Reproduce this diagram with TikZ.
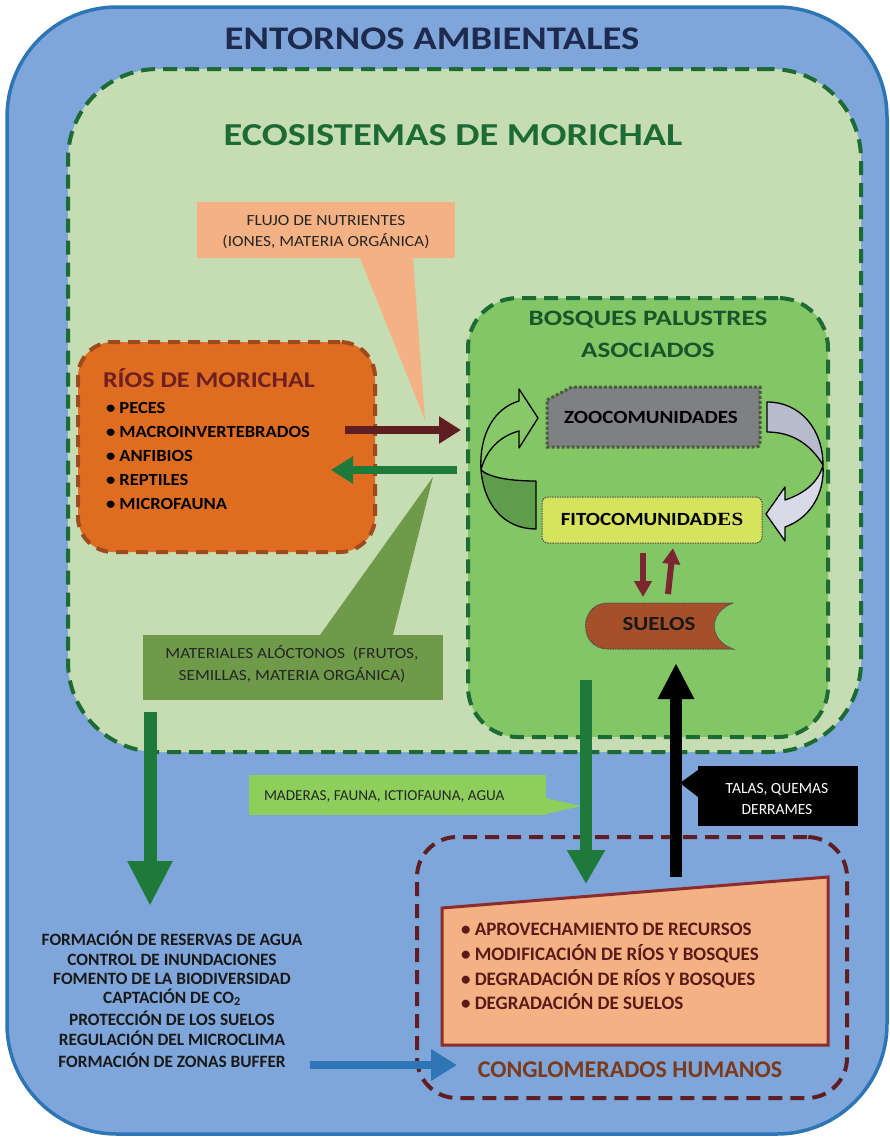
\documentclass[tikz,border=0pt]{standalone}
\usepackage{fontspec}
\usepackage{graphicx}
\setmainfont{Carlito}
\newfontfamily\serifface{Liberation Serif}
\usetikzlibrary{arrows.meta}
\newcommand\fsz[1]{\fontsize{#1}{#1}\selectfont}
\newcommand\sx[2]{\scalebox{#1}[1]{#2}}
\definecolor{bfill}{HTML}{7EA6DA}
\definecolor{bline}{HTML}{2E75B6}
\definecolor{sage}{HTML}{C6DCB2}
\definecolor{dgreen}{HTML}{1D6B34}
\definecolor{navy}{HTML}{1F2A4F}
\definecolor{orng}{HTML}{DF6D21}
\definecolor{obrd}{HTML}{9E4A1C}
\definecolor{bosq}{HTML}{82C665}
\definecolor{peach}{HTML}{F4B183}
\definecolor{olivec}{HTML}{6F9A4A}
\definecolor{lgreen}{HTML}{8ECF5C}
\definecolor{maroon}{HTML}{5E1E22}
\definecolor{agreen}{HTML}{1E7A3A}
\definecolor{trbrd}{HTML}{8B2D2D}
\definecolor{congl}{HTML}{7B3B1A}
\definecolor{riosc}{HTML}{6E1F1F}
\definecolor{zoof}{HTML}{7F8083}
\definecolor{zoob}{HTML}{4D5A3C}
\definecolor{fitof}{HTML}{D5E35E}
\definecolor{suelf}{HTML}{A5502A}
\definecolor{smar}{HTML}{7B2630}
\definecolor{garrU}{HTML}{86C86A}
\definecolor{garrL}{HTML}{5F9C4B}
\definecolor{grarU}{HTML}{B7BBCB}
\definecolor{grarL}{HTML}{D8DBE7}
\definecolor{humtxt}{HTML}{5A1A1A}
\begin{document}
\begin{tikzpicture}[x=1pt,y=-1pt,
  lbl/.style={inner sep=0pt, outer sep=0pt, anchor=base},
  lbll/.style={inner sep=0pt, outer sep=0pt, anchor=base west},
  box/.style={inner sep=0pt, outer sep=0pt},
  bigdash/.style={line width=4pt, dash pattern=on 14pt off 8pt},
  fatarrow/.style n args={4}{draw=#1, line width=#2, -{Triangle[length=#3, width=#4]}},
  curved/.style={draw=black, line width=1.3pt, line join=round}
]
\useasboundingbox (0,0) rectangle (890,1138);

% containers
\node[box, draw=bline, line width=3.5pt, fill=bfill, rounded corners=110pt,
  minimum width=880pt, minimum height=1127pt] (env) at (447,570.5) {};
\node[box, draw=dgreen, bigdash, fill=sage, rounded corners=90pt,
  minimum width=793pt, minimum height=683pt] (eco) at (464.5,410.5) {};
\node[lbl, font=\fsz{33}\bfseries, text=navy] (t1) at (432,49) {\sx{1.17}{ENTORNOS AMBIENTALES}};
\node[lbl, font=\fsz{32}\bfseries, text=dgreen] (t2) at (453,145) {\sx{1.2}{ECOSISTEMAS DE MORICHAL}};

\node[box, draw=dgreen, bigdash, fill=bosq, rounded corners=50pt,
  minimum width=360pt, minimum height=439pt] (bosq) at (648,517.5) {};
\node[lbl, font=\fsz{22}\bfseries, text=dgreen!80!black] (bt1) at (648,325) {\sx{1.23}{BOSQUES PALUSTRES}};
\node[lbl, font=\fsz{22}\bfseries, text=dgreen!80!black] (bt2) at (648,357) {\sx{1.23}{ASOCIADOS}};

\node[box, draw=obrd, line width=4pt, dash pattern=on 12pt off 8pt, fill=orng, rounded corners=35pt,
  minimum width=297pt, minimum height=210pt] (rios) at (226.5,447) {};
\node[lbll, font=\fsz{22.5}\bfseries, text=riosc] (rt) at (103,387) {\sx{1.16}{RÍOS DE MORICHAL}};
\foreach \t/\yy [count=\i] in {PECES/413, MACROINVERTEBRADOS/437, ANFIBIOS/461, REPTILES/485, MICROFAUNA/509}
  \node[lbll, font=\fsz{17}\bfseries, text=black] (ri\i) at (106,\yy) {\sx{1.09}{\textbullet\ \t}};

% callouts
\fill[peach] (360,258) -- (425,420) -- (413,258) -- cycle;
\node[box, fill=peach, minimum width=258pt, minimum height=56pt] (flujo) at (326,230) {};
\node[lbl, font=\fsz{15.5}, text=black!85] (fl1) at (326,225) {\sx{1.12}{FLUJO DE NUTRIENTES}};
\node[lbl, font=\fsz{15.5}, text=black!85] (fl2) at (326,246) {\sx{1.12}{(IONES, MATERIA ORGÁNICA)}};

\fill[olivec] (320,635) -- (433,477) -- (393,635) -- cycle;
\node[box, fill=olivec, minimum width=300pt, minimum height=65pt] (mat) at (293,667.5) {};
\node[lbl, font=\fsz{15.5}, text=black!85] (m1) at (292,658) {\sx{1.12}{MATERIALES ALÓCTONOS \ (FRUTOS,}};
\node[lbl, font=\fsz{15.5}, text=black!85] (m2) at (292,680) {\sx{1.12}{SEMILLAS, MATERIA ORGÁNICA)}};

% curved arrows
\filldraw[curved, fill=garrU] (481,470) .. controls (479,433) and (495,408) .. (519,401) -- (519,389) -- (538,418) -- (519,448) -- (519,431) .. controls (500,436) and (486,450) .. (481,470) -- cycle;
\filldraw[curved, fill=garrL] (481,470) .. controls (484,506) and (505,529) .. (536,529) -- (536,481) .. controls (512,481) and (490,478) .. (481,470) -- cycle;
\filldraw[curved, fill=grarU] (767,402) .. controls (801,402) and (823,430) .. (823,465) .. controls (812,447) and (795,432) .. (767,432) -- cycle;
\filldraw[curved, fill=grarL] (823,465) .. controls (825,496) and (808,519) .. (785,527) -- (785,541) -- (766,514) -- (785,487) -- (785,500) .. controls (800,495) and (818,485) .. (823,465) -- cycle;

% zoo / fito / suelos
\filldraw[fill=zoof, draw=zoob, line width=3pt, dash pattern=on 3pt off 2pt]
  (547,400) -- (572,387) -- (760,387) -- (760,439) .. controls (760,447) .. (752,447) -- (547,447) -- cycle;
\node[lbl, font=\fsz{18.6}\bfseries, text=black] (zoo) at (651,423) {\sx{1.13}{ZOOCOMUNIDADES}};
\node[box, fill=fitof, draw=black!70, line width=1pt, dash pattern=on 1.5pt off 1pt, rounded corners=6pt,
  minimum width=220pt, minimum height=46pt] (fito) at (652,520) {};
\node[lbl, font=\fsz{18.6}\bfseries, text=black] (fitot) at (652,525) {\sx{1.13}{FITOCOMUNIDA{\serifface DES}}};
\filldraw[fill=suelf, draw=black!70, line width=1pt, dash pattern=on 1.5pt off 1pt]
  (608,603) -- (733,603) .. controls (708,612) and (708,640) .. (733,649) -- (608,649) .. controls (578,649) and (578,603) .. (608,603) -- cycle;
\node[lbl, font=\fsz{20}\bfseries, text=black!90] (suelos) at (659,630) {\sx{1.15}{SUELOS}};

\coordinate (s1a) at (643,553); \coordinate (s1b) at (643,597);
\coordinate (s2a) at (668,594); \coordinate (s2b) at (673,548);
\draw[fatarrow={smar}{6pt}{16pt}{17pt}] (s1a) -- (s1b);
\draw[fatarrow={smar}{6pt}{16pt}{17pt}] (s2a) -- (s2b);

% lower callouts
\fill[lgreen] (546,798) -- (581,806) -- (546,814) -- cycle;
\node[box, fill=lgreen, minimum width=297pt, minimum height=40pt] (mad) at (397.5,795) {};
\node[lbll, font=\fsz{15.2}, text=black!85] (madt) at (264,800) {MADERAS, FAUNA, ICTIOFAUNA, AGUA};

\fill[black] (698,770) -- (680,783) -- (698,797) -- cycle;
\node[box, fill=black, minimum width=160pt, minimum height=60pt] (tal) at (778,796) {};
\node[lbl, font=\fsz{15.5}, text=white] (tal1) at (777,793) {TALAS, QUEMAS};
\node[lbl, font=\fsz{15.5}, text=white] (tal2) at (777,814) {DERRAMES};

% humans
\node[box, draw=maroon, line width=4pt, dash pattern=on 14pt off 8pt, rounded corners=40pt,
  minimum width=430pt, minimum height=261pt] (hum) at (632,967.5) {};
\filldraw[fill=peach, draw=trbrd, line width=3pt] (442,908) -- (828,877) -- (828,1045) -- (442,1045) -- cycle;
\foreach \t/\yy [count=\i] in {APROVECHAMIENTO DE RECURSOS/935, MODIFICACIÓN DE RÍOS Y BOSQUES/960, DEGRADACIÓN DE RÍOS Y BOSQUES/985, DEGRADACIÓN DE SUELOS/1009}
  \node[lbll, font=\fsz{19}\bfseries, text=humtxt] (h\i) at (461,\yy) {\textbullet\ \t};
\node[lbl, font=\fsz{24}\bfseries, text=congl] (humt) at (630,1077) {CONGLOMERADOS HUMANOS};

% services list
\foreach \t/\yy [count=\i] in {FORMACIÓN DE RESERVAS DE AGUA/945, CONTROL DE INUNDACIONES/965, FOMENTO DE LA BIODIVERSIDAD/984, CAPTACIÓN DE CO\textsubscript{2}/1003, PROTECCIÓN DE LOS SUELOS/1025, REGULACIÓN DEL MICROCLIMA/1045, FORMACIÓN DE ZONAS BUFFER/1067}
  \node[lbl, font=\fsz{17.3}\bfseries, text=black!90] (sv\i) at (172,\yy) {\t};

% connectors
\coordinate (a1s) at (345,430); \coordinate (a1e) at (461,430);
\coordinate (a2s) at (457,470); \coordinate (a2e) at (331,470);
\draw[fatarrow={maroon}{8pt}{22pt}{26pt}] (a1s) -- (a1e);
\draw[fatarrow={agreen}{8pt}{22pt}{26pt}] (a2s) -- (a2e);

\coordinate (g1s) at (150,712); \coordinate (g1e) at (150,906);
\draw[fatarrow={agreen}{13pt}{45pt}{42pt}] (g1s) -- (g1e);
\coordinate (g2s) at (586,680); \coordinate (g2e) at (586,884);
\draw[fatarrow={agreen}{12pt}{34pt}{36pt}] (g2s) -- (g2e);
\coordinate (k1s) at (676,877); \coordinate (k1e) at (676,663);
\draw[fatarrow={black}{12pt}{36pt}{34pt}] (k1s) -- (k1e);
\coordinate (b1s) at (310,1065); \coordinate (b1e) at (457,1065);
\draw[fatarrow={bline}{8pt}{26pt}{30pt}] (b1s) -- (b1e);
\end{tikzpicture}
\end{document}
